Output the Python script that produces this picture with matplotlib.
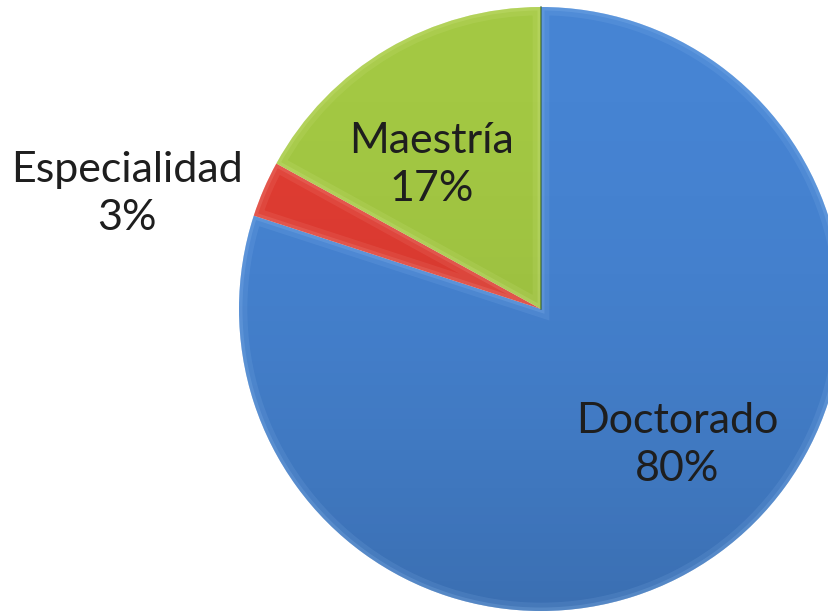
import matplotlib
matplotlib.use("Agg")
import matplotlib.pyplot as plt
import matplotlib.patches as mp
import numpy as np

categories = ["Doctorado", "Especialidad", "Maestría"]
values = [80, 3, 17]
colors = ["#4684D3", "#E03C32", "#A3C843"]
edge_light = ["#9CC8F8", "#F7A29A", "#DDF09A"]

W, H = 829, 613
fig = plt.figure(figsize=(W / 100, H / 100), dpi=100)
ax = fig.add_axes([0, 0, 1, 1])
cx, cy, r = 541, H - 309, 302
wedges, _ = ax.pie(values, colors=colors, startangle=90, counterclock=False,
                   center=(cx, cy), radius=r, frame=True,
                   wedgeprops=dict(linewidth=0))

# vertical shading: darker toward the bottom
t = np.linspace(0, 1, 256).reshape(-1, 1)
rgba = np.zeros((256, 1, 4))
rgba[..., 3] = 0.16 * t ** 2
circle = mp.Circle((cx, cy), r, transform=ax.transData, facecolor="none", edgecolor="none")
ax.add_patch(circle)
im = ax.imshow(rgba, extent=(cx - r, cx + r, cy - r, cy + r), origin="upper",
               aspect="auto", zorder=3)
im.set_clip_path(circle)

# soft bevel highlight along each wedge edge
for w, ec in zip(wedges, edge_light):
    for lw, a in [(12, 0.12), (5, 0.18)]:
        hl = mp.Wedge(w.center, w.r, w.theta1, w.theta2, facecolor="none",
                      edgecolor=ec, linewidth=lw, alpha=a, zorder=4)
        ax.add_patch(hl)
        hl.set_clip_path(w)
# dark seam between Maestría and Doctorado
ax.plot([cx, cx], [cy, cy + r], color="#2E5A1E", lw=1.2, alpha=0.6, zorder=5)

ax.set_xlim(0, W)
ax.set_ylim(0, H)
ax.set_aspect("equal")
ax.axis("off")

font = dict(family=["Lato", "DejaVu Sans"], fontsize=31, color="#1E1E1E",
            ha="center", va="center", linespacing=1.3, zorder=6)
pct = [f"{v}%" for v in values]
ax.text(677, H - 445, f"{categories[0]}\n{pct[0]}", **font)
ax.text(127, H - 194, f"{categories[1]}\n{pct[1]}", **font)
ax.text(432, H - 165, f"{categories[2]}\n{pct[2]}", **font)

fig.savefig("out.png", dpi=100)
